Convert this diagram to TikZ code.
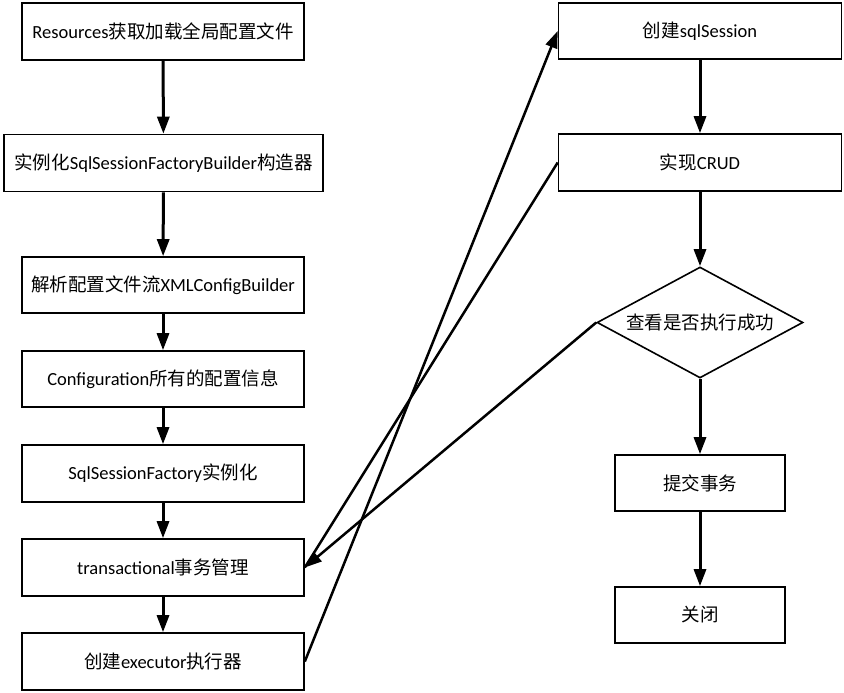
\documentclass[tikz,border=0pt]{standalone}
\usepackage{fontspec}
\setmainfont{Carlito}
\newfontfamily\cjk{Noto Sans CJK SC}
\newcommand\zh[1]{{\cjk #1}}
\usetikzlibrary{shapes.geometric,arrows.meta}
\begin{document}
\begin{tikzpicture}[x=1pt,y=-1pt,
  box/.style={draw,line width=1.6pt,inner sep=0pt,font=\fontsize{18.5}{22}\selectfont},
  lbox/.style={box,minimum width=282pt,minimum height=57pt},
  rbox/.style={box,minimum width=283pt,minimum height=57pt},
  sbox/.style={box,minimum width=170pt,minimum height=56pt},
  varrow/.style={line width=3pt,-{Triangle[length=17pt,width=12pt]}},
  darrow/.style={line width=2.5pt,-{Triangle[length=17pt,width=12pt]}},
  dline/.style={line width=2.5pt}]
\useasboundingbox (0,0) rectangle (844,693);
\node[lbox] (b1) at (163,31.5) {Resources\zh{获取加载全局配置文件}};
\node[box,minimum width=319pt,minimum height=57pt] (b2) at (163.5,163) {\zh{实例化}SqlSessionFactoryBuilder\zh{构造器}};
\node[lbox,minimum height=56pt] (b3) at (163,285) {\zh{解析配置文件流}XMLConfigBuilder};
\node[lbox,minimum height=56pt] (b4) at (163,379) {Configuration\zh{所有的配置信息}};
\node[lbox] (b5) at (163,473.5) {SqlSessionFactory\zh{实例化}};
\node[lbox] (b6) at (163,567.5) {transactional\zh{事务管理}};
\node[lbox] (b7) at (163,661.5) {\zh{创建}executor\zh{执行器}};
\node[rbox,minimum height=56pt] (r1) at (700,31) {\zh{创建}sqlSession};
\node[rbox] (r2) at (700,162.5) {\zh{实现}CRUD};
\node[box,diamond,aspect=1.856,minimum width=206pt,minimum height=111pt] (d) at (700,322.5) {\zh{查看是否执行成功}};
\node[sbox] (r3) at (700,483) {\zh{提交事务}};
\node[sbox] (r4) at (700,615) {\zh{关闭}};
\draw[varrow] (b1) -- (b2);
\draw[varrow] (b2) -- (b3);
\draw[varrow] (b3) -- (b4);
\draw[varrow] (b4) -- (b5);
\draw[varrow] (b5) -- (b6);
\draw[varrow] (b6) -- (b7);
\draw[varrow] (r1) -- (r2);
\draw[varrow] (r2) -- (d);
\draw[varrow] (d) -- (r3);
\draw[varrow] (r3) -- (r4);
\draw[darrow] (b7.east) -- (r1.west);
\draw[dline] (r2.west) -- (b6.east);
\draw[darrow] (d.west) -- (b6.east);
\end{tikzpicture}
\end{document}
